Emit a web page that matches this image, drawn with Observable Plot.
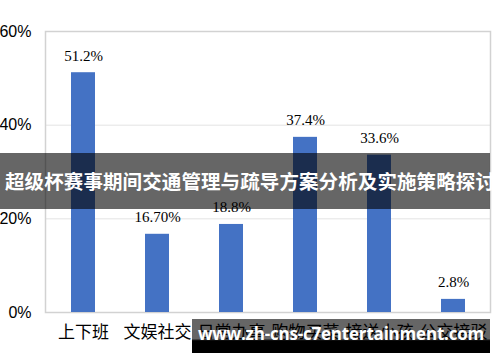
<!DOCTYPE html>
<html>
<head>
<meta charset="utf-8">
<script src="https://cdn.jsdelivr.net/npm/d3@7"></script>
<script src="https://cdn.jsdelivr.net/npm/@observablehq/plot@0.6"></script>
<style>
  html, body { margin: 0; padding: 0; background: #fff; }
  #wrap { position: relative; width: 500px; height: 362px; overflow: hidden; }
  #titleband { position: absolute; left: 0; top: 153px; width: 490px; height: 56px; background: rgba(0,0,0,0.6); }
  #title { position: absolute; left: 0; top: 153px; width: 500px; height: 56px; line-height: 56px; text-align: center;
    color: #fff; font-family: "Noto Sans CJK SC", sans-serif; font-weight: bold; font-size: 19.5px; white-space: nowrap; letter-spacing: 0.1px; }
  #wm { position: absolute; left: 192px; top: 319px; width: 298px; height: 34px;
    background: linear-gradient(rgba(0,0,0,0.6) 0%, rgba(0,0,0,0.6) 58%, #000 64%, #000 100%); }
  #wmtext { position: absolute; left: 192px; top: 322px; width: 298px; text-align: center; color: #fff;
    font-family: "Open Sans", sans-serif; font-weight: bold; font-size: 17px; white-space: nowrap; letter-spacing: -0.2px; }
</style>
</head>
<body>
<div id="wrap">
  <div id="chart"></div>
  <div id="titleband"></div>
  <div id="title">超级杯赛事期间交通管理与疏导方案分析及实施策略探讨</div>
  <div id="wm"></div>
  <div id="wmtext">www.zh-cns-c7entertainment.com</div>
</div>
<script>
const categories = ["上下班", "文娱社交", "日常办事", "购物买菜", "接送小孩", "公交接驳"];
const values = [0.512, 0.167, 0.188, 0.374, 0.336, 0.028];
const valueLabels = ["51.2%", "16.70%", "18.8%", "37.4%", "33.6%", "2.8%"];
const yTicks = [0, 0.2, 0.4, 0.6];
const gridTicks = [0.2, 0.4];

const data = categories.map((c, i) => ({cat: c, v: values[i], label: valueLabels[i]}));

const chart = Plot.plot({
  width: 500,
  height: 362,
  marginLeft: 45,
  marginRight: 10,
  marginTop: 31,
  marginBottom: 50,
  style: {fontFamily: "Liberation Sans, sans-serif", color: "#000", background: "#fff"},
  x: {domain: categories, paddingInner: 0.68, paddingOuter: 0.34, label: null},
  y: {domain: [0, 0.6], label: null},
  marks: [
    Plot.ruleY(gridTicks, {stroke: "#e3e3e3", strokeWidth: 1}),
    Plot.frame({stroke: "#d2d2d2", strokeWidth: 1.5}),
    Plot.barY(data, {x: "cat", y: "v", fill: "#4472C4"}),
    Plot.text(data, {x: "cat", y: "v", text: "label", dy: -17, lineAnchor: "middle",
      fontFamily: "Liberation Serif, serif", fontSize: 15, fill: "#000"}),
    Plot.axisY({ticks: yTicks, tickFormat: d3.format(".0%"), tickSize: 0, tickPadding: 14,
      fontSize: 16, fontFamily: "Liberation Sans, sans-serif", label: null}),
    Plot.axisX({tickSize: 0, tickPadding: 13, fontSize: 17,
      fontFamily: "Noto Sans CJK SC, sans-serif", label: null})
  ]
});
document.getElementById("chart").appendChild(chart);
</script>
</body>
</html>
